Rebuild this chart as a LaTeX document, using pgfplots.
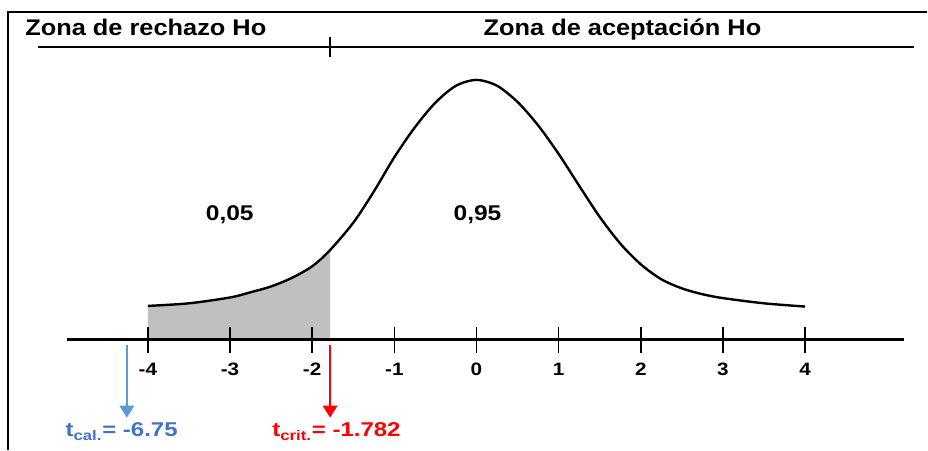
\documentclass[border=0pt]{standalone}
\usepackage{fontspec}
\setmainfont{Liberation Sans}
\usepackage{pgfplots}
\pgfplotsset{compat=1.18}
\usetikzlibrary{arrows.meta}

\definecolor{calblue}{HTML}{4472C4}
\definecolor{arrowblue}{HTML}{5B9BD5}
\definecolor{tailgray}{HTML}{C0C0C0}

% bell-shaped density sketch, x in t units
\pgfplotstableread{
x       y
-4.000  0.052
-3.500  0.056
-3.000  0.065
-2.750  0.073
-2.500  0.082
-2.250  0.095
-2.000  0.113
-1.782  0.138
-1.500  0.180
-1.250  0.228
-1.000  0.281
-0.750  0.327
-0.500  0.365
-0.250  0.391
 0.000  0.400
 0.250  0.391
 0.500  0.366
 0.750  0.330
 1.000  0.286
 1.250  0.237
 1.500  0.189
 1.750  0.148
 2.000  0.116
 2.250  0.093
 2.500  0.079
 2.750  0.070
 3.000  0.064
 3.500  0.056
 4.000  0.051
}\density

% left tail up to t_crit = -1.782 (rejection area)
\pgfplotstableread{
x       y
-4.000  0.052
-3.500  0.056
-3.000  0.065
-2.750  0.073
-2.500  0.082
-2.250  0.095
-2.000  0.113
-1.782  0.138
}\tail

\pgfmathsetmacro{\tcrit}{-1.782}
\pgfmathsetmacro{\tcal}{-4.255}% arrow for t_cal = -6.75, drawn just past -4

\begin{document}
\begin{tikzpicture}
\begin{axis}[
  scale only axis,
  width=628.5pt, height=337.5pt,
  xmin=-4.985, xmax=5.204,
  ymin=-0.1692, ymax=0.5231,
  axis x line=middle, axis y line=none,
  x axis line style={-, line width=1.8pt},
  xtick={-4,-3,-2,-1,0,1,2,3,4},
  xticklabels={-4,-3,-2,-1,0,1,2,3,4},
  ytick=\empty,
  major tick length=19.5pt,
  tick align=center,
  tick style={line width=1.2pt, black},
  xticklabel style={font=\fontsize{13.5}{15}\selectfont\bfseries, anchor=north, yshift=-4pt, xscale=1.15},
  clip=false,
  axis on top,
]
  % page extent
  \path (axis cs:-5.799,-0.1692) rectangle (axis cs:5.483,0.5231);

  \addplot[fill=tailgray, draw=none, smooth] table {\tail} \closedcycle;
  \addplot[smooth, line width=1.8pt, black] table {\density};

  % frame
  \draw[line width=1.5pt] (axis cs:-5.702,-0.1692) -- (axis cs:-5.702,0.5046) -- (axis cs:5.483,0.5046);

  % zone header
  \draw[line width=1.8pt] (axis cs:-5.337,0.4508) -- (axis cs:5.325,0.4508);
  \draw[line width=1pt] (axis cs:\tcrit,0.4662) -- (axis cs:\tcrit,0.4354);
  \node[anchor=base west, xscale=1.12, font=\fontsize{17}{20}\selectfont\bfseries] at (axis cs:-5.555,0.4677) {Zona de rechazo Ho};
  \node[anchor=base west, xscale=1.12, font=\fontsize{17}{20}\selectfont\bfseries] at (axis cs:0.023,0.4677) {Zona de aceptación Ho};

  % areas
  \node[xscale=1.15, font=\fontsize{16}{18}\selectfont\bfseries] at (axis cs:-3.003,0.1923) {0,05};
  \node[xscale=1.15, font=\fontsize{16}{18}\selectfont\bfseries] at (axis cs:0.012,0.1923) {0,95};

  % statistics
  \draw[arrowblue, line width=1.1pt, -{Triangle[width=11pt,length=9pt]}] (axis cs:\tcal,-0.0077) -- (axis cs:\tcal,-0.120);
  \draw[red, line width=1.1pt, -{Triangle[width=11pt,length=9pt]}] (axis cs:\tcrit,-0.0077) -- (axis cs:\tcrit,-0.120);
  \node[anchor=base west, xscale=1.2, text=calblue, font=\fontsize{15}{18}\selectfont\bfseries] at (axis cs:-5.070,-0.1492) {t\textsubscript{cal.}= -6.75};
  \node[anchor=base west, xscale=1.2, text=red, font=\fontsize{15}{18}\selectfont\bfseries] at (axis cs:-2.553,-0.1492) {t\textsubscript{crit.}= -1.782};
\end{axis}
\end{tikzpicture}
\end{document}
